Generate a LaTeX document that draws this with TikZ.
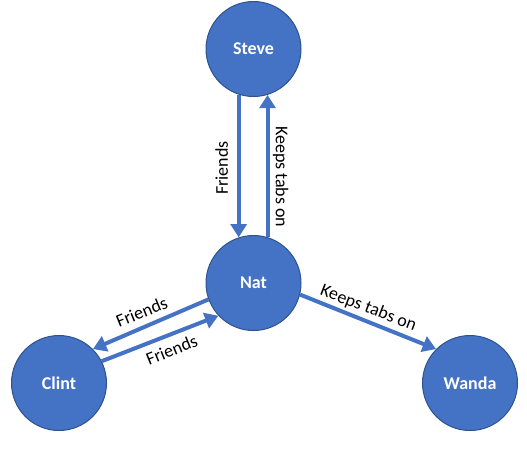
\documentclass[tikz,border=0pt]{standalone}
\usepackage{fontspec}
\setmainfont{Carlito}
\usetikzlibrary{arrows.meta}
\definecolor{nodeblue}{HTML}{4472C4}
\definecolor{nodeedge}{HTML}{2F528F}
\begin{document}
\begin{tikzpicture}[x=0.75pt,y=-0.75pt,
  person/.style={circle, fill=nodeblue, draw=nodeedge, line width=0.75pt,
    minimum size=71.25pt, inner sep=0pt, text=white,
    font=\fontsize{13.5}{16}\selectfont\bfseries},
  rel/.style={draw=nodeblue, line width=3pt, -{Triangle[width=12pt,length=10pt]}},
  lbl/.style={font=\fontsize{13.5}{16}\selectfont, inner sep=0pt}]
\useasboundingbox (0,0) rectangle (527,451);
\node[person] (steve) at (253.5,49) {Steve};
\node[person] (nat) at (253.5,283) {Nat};
\node[person] (clint) at (59,383) {Clint};
\node[person] (wanda) at (470,383) {Wanda};
\draw[rel] (steve.252) -- (nat.108);
\draw[rel] (nat.73) -- (steve.287);
\draw[rel] (nat.200) -- (clint.45);
\draw[rel] (clint.27) -- (nat.223);
\draw[rel] (nat.-14) -- (wanda.135);
\node[lbl, rotate=90] (l1) at (221.7,168) {Friends};
\node[lbl, rotate=-90] (l2) at (280.7,176.7) {Keeps tabs on};
\node[lbl, rotate=22] (l3) at (141.7,311.7) {Friends};
\node[lbl, rotate=22] (l4) at (171.7,350) {Friends};
\node[lbl, rotate=-21] (l5) at (368.3,308.3) {Keeps tabs on};
\end{tikzpicture}
\end{document}
